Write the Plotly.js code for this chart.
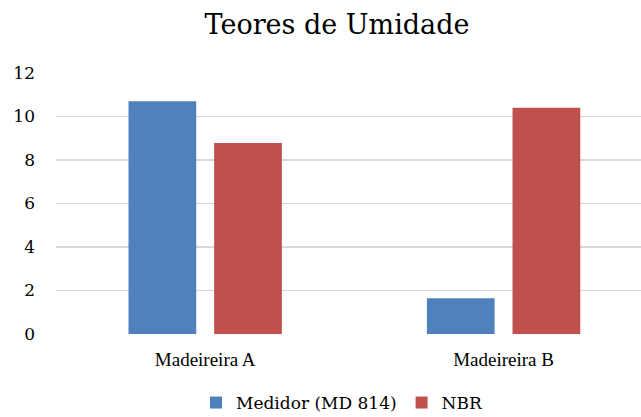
<!DOCTYPE html>
<html>
<head>
<meta charset="utf-8">
<script src="https://cdn.plot.ly/plotly-3.0.1.min.js"></script>
<style>html,body{margin:0;padding:0;background:#fff;}#chart{width:641px;height:417px;}</style>
</head>
<body>
<div id="chart"></div>
<script>
const categories = ["Madeireira A", "Madeireira B"];
const seriesNames = ["Medidor (MD 814)", "NBR"];
const medidor = [10.7, 1.64];
const nbr = [8.78, 10.4];
const yTicks = [0, 2, 4, 6, 8, 10, 12];

const serif = "DejaVu Serif, serif";

const data = [
  {type: "bar", name: seriesNames[0], x: categories, y: medidor,
   marker: {color: "#4F81BD"}, width: 0.227, offset: -0.257},
  {type: "bar", name: seriesNames[1], x: categories, y: nbr,
   marker: {color: "#C0504D"}, width: 0.227, offset: 0.030}
];

const layout = {
  width: 641, height: 417,
  margin: {l: 56, r: 0, t: 73, b: 83},
  paper_bgcolor: "#fff", plot_bgcolor: "#fff",
  font: {family: serif, color: "#000"},
  title: {text: "Teores de Umidade", xref: "container", x: 337/641, xanchor: "center",
          yref: "container", y: 1 - 25/417, yanchor: "middle",
          font: {family: serif, size: 27, color: "#000"}},
  xaxis: {type: "category", range: [-0.5, 1.4606], showgrid: false, zeroline: false,
          showline: false, ticks: "", ticklabelstandoff: 12,
          tickfont: {family: "Liberation Serif, serif", size: 19, color: "#000"}},
  yaxis: {range: [0, 12], tickvals: yTicks, ticktext: yTicks.map(String),
          showgrid: true, gridcolor: "#D9D9D9", gridwidth: 1.3, zeroline: false,
          showline: false, ticks: "", ticklabelstandoff: 20,
          tickfont: {family: serif, size: 17, color: "#000"}},
  showlegend: true,
  legend: {orientation: "h", xref: "container", x: 342/641, xanchor: "center",
           yref: "container", y: 1 - 403/417, yanchor: "middle",
           font: {family: serif, size: 17, color: "#000"},
           itemwidth: 30, tracegroupgap: 0},
  bargap: 0.4
};

Plotly.newPlot("chart", data, layout, {displayModeBar: false, staticPlot: true});
</script>
</body>
</html>
